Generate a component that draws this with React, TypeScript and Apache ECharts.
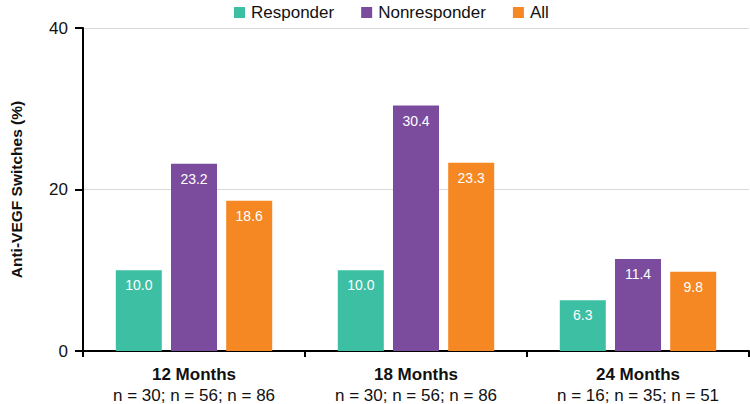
import React, { useEffect, useRef } from "react";
import * as echarts from "echarts";

const categories = ["12 Months", "18 Months", "24 Months"];
const sampleLabels = ["n = 30; n = 56; n = 86", "n = 30; n = 56; n = 86", "n = 16; n = 35; n = 51"];
const seriesNames = ["Responder", "Nonresponder", "All"];
const responder = [10.0, 10.0, 6.3];
const nonresponder = [23.2, 30.4, 11.4];
const all = [18.6, 23.3, 9.8];
const yTicks = [0, 20, 40];
const colors = ["#3dbfa3", "#7b4c9e", "#f58823"];
const FONT = "Liberation Sans, Arial, Helvetica, sans-serif";

export default function App() {
  const ref = useRef<HTMLDivElement>(null);
  useEffect(() => {
    const chart = echarts.init(ref.current!, null, { renderer: "svg" });
    const data = [responder, nonresponder, all];
    chart.setOption({
      animation: false,
      textStyle: { fontFamily: FONT },
      legend: {
        top: -1,
        left: 229,
        itemWidth: 11,
        itemHeight: 11,
        itemGap: 27,
        icon: "rect",
        textStyle: { fontSize: 17, color: "#111", fontFamily: FONT, padding: [0, 0, 0, 1] },
        data: seriesNames,
      },
      grid: { left: 76, right: 1, top: 28, bottom: 53, containLabel: false },
      xAxis: {
        type: "category",
        data: categories,
        axisLine: { lineStyle: { color: "#000", width: 2 } },
        axisTick: { show: true, length: 6, lineStyle: { color: "#000", width: 2 } },
        axisLabel: {
          margin: 13,
          interval: 0,
          formatter: (v: string, i: number) => `{b|${v}}\n{n|${sampleLabels[i]}}`,
          rich: {
            b: { fontSize: 17, fontWeight: "bold", color: "#111", fontFamily: FONT, lineHeight: 21 },
            n: { fontSize: 17, color: "#111", fontFamily: FONT, lineHeight: 21 },
          },
        },
      },
      yAxis: {
        type: "value",
        min: yTicks[0],
        max: yTicks[yTicks.length - 1],
        interval: yTicks[1] - yTicks[0],
        name: "Anti-VEGF Switches (%)",
        nameLocation: "middle",
        nameGap: 59,
        nameTextStyle: { fontSize: 15.5, fontWeight: "bold", color: "#111", fontFamily: FONT },
        axisLine: { show: true, lineStyle: { color: "#000", width: 2 } },
        axisTick: { show: true, length: 8, lineStyle: { color: "#000", width: 2 } },
        axisLabel: { fontSize: 17, color: "#111", margin: 15, fontFamily: FONT },
        splitLine: { lineStyle: { color: "#d9d9d9", width: 1 } },
      },
      series: seriesNames.map((name, i) => ({
        name,
        type: "bar",
        data: data[i],
        barWidth: 46,
        barGap: "20%",
        itemStyle: { color: colors[i] },
        label: {
          show: true,
          position: "insideTop",
          distance: 8,
          color: "#fff",
          fontSize: 14,
          fontFamily: FONT,
          formatter: (p: any) => p.value.toFixed(1),
        },
      })),
    });
    return () => chart.dispose();
  }, []);
  return <div ref={ref} style={{ position: "absolute", left: 0, top: 0, width: 750, height: 404 }} />;
}
